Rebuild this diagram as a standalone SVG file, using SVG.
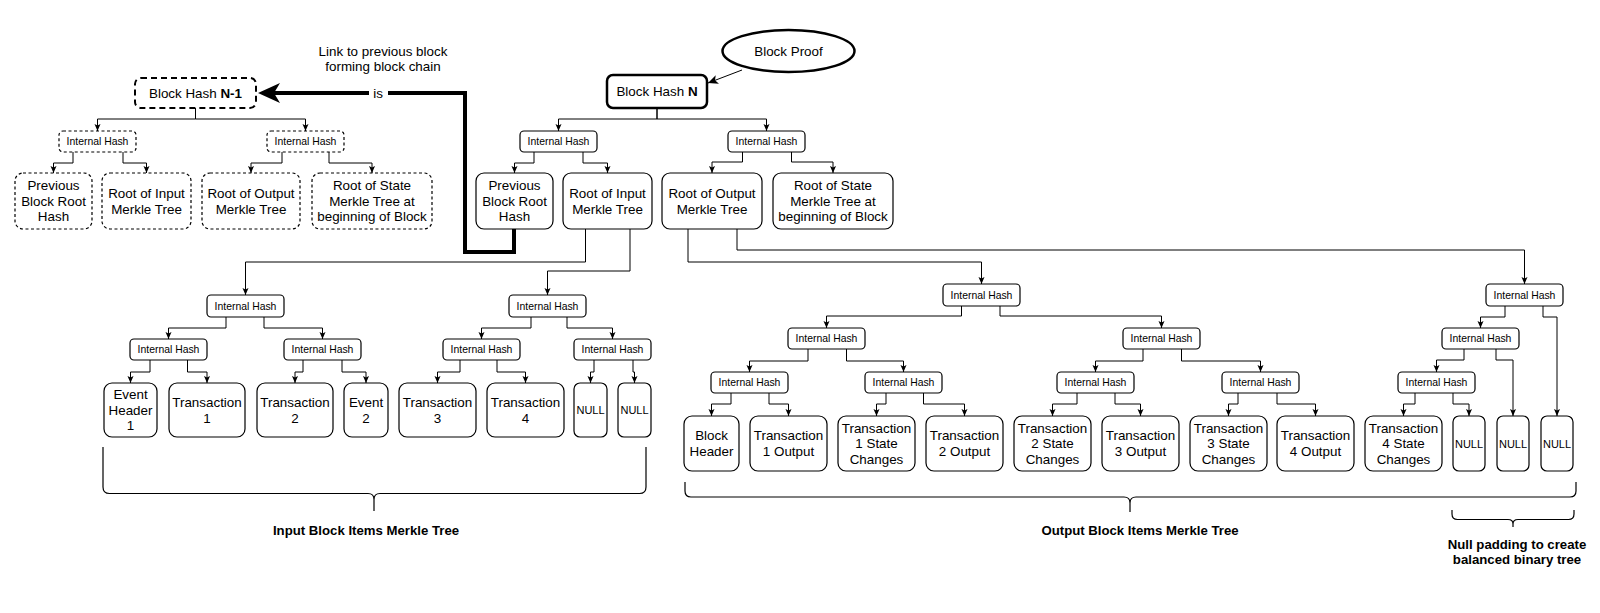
<svg xmlns="http://www.w3.org/2000/svg" width="1600" height="613" viewBox="0 0 1600 613">
<style>
text{font-family:"Liberation Sans",Arial,Helvetica,sans-serif;fill:#000;text-anchor:middle}
.t{font-size:13.4px}
.s{font-size:10.4px}
.nl{font-size:11px}
.b{font-size:13.2px;font-weight:bold}
.n rect{fill:#fff;stroke:#000;stroke-width:1.2}
.d rect{stroke-dasharray:3 2.5}
.c path{fill:none;stroke:#000;stroke-width:1;marker-end:url(#a)}
.br{fill:none;stroke:#000;stroke-width:1.2}
</style>
<defs>
<marker id="a" markerUnits="userSpaceOnUse" markerWidth="8" markerHeight="8" viewBox="0 0 8 8" refX="7" refY="4" orient="auto"><path d="M0,1 L7,4 L0,7 L1.5,4 z" fill="#000"/></marker>
<marker id="big" markerUnits="userSpaceOnUse" markerWidth="24" markerHeight="22" viewBox="0 0 24 22" refX="10" refY="11" orient="auto"><path d="M0,1 L22,11 L0,21 L6,11 z" fill="#000"/></marker>
<marker id="op" markerUnits="userSpaceOnUse" markerWidth="12" markerHeight="12" viewBox="0 0 12 12" refX="10" refY="6" orient="auto"><path d="M0,1.5 L10,6 L0,10.5 L2.5,6 z" fill="#000"/></marker>
</defs>
<rect width="1600" height="613" fill="#fff"/>

<g id="connectors">
<g class="c">
<path d="M657,108 V119 H558.5 V131"/>
<path d="M657,108 V119 H766.5 V131"/>
<path d="M534,152 V163 H514.5 V173"/>
<path d="M583,152 V163 H607.5 V173"/>
<path d="M742.5,152 V162 H712 V173"/>
<path d="M791.5,152 V162 H833 V173"/>
<path d="M195.5,108 V119 H97.5 V131"/>
<path d="M195.5,108 V119 H305.5 V131"/>
<path d="M73,152 V163 H53.5 V173"/>
<path d="M123,152 V163 H146.5 V173"/>
<path d="M282,152 V163 H251 V173"/>
<path d="M329,152 V163 H372 V173"/>
<path d="M585.5,229 V262 H245.5 V295"/>
<path d="M630,229 V271 H547.5 V295"/>
<path d="M226,317 V328 H168.5 V339"/>
<path d="M264,317 V328 H322.5 V339"/>
<path d="M531,317 V328 H481.5 V339"/>
<path d="M567,317 V328 H612.5 V339"/>
<path d="M150,360 V372 H130.5 V383"/>
<path d="M187.5,360 V372 H207 V383"/>
<path d="M303,360 V372 H295 V383"/>
<path d="M342,360 V372 H366 V383"/>
<path d="M460,360 V372 H437.5 V383"/>
<path d="M497,360 V372 H525.5 V383"/>
<path d="M594,360 V372 H590.5 V383"/>
<path d="M633,360 V372 H634.5 V383"/>
<path d="M688,229 V262 H981.5 V284"/>
<path d="M737,229 V250 H1524.5 V284"/>
<path d="M961.5,306 V316 H826.5 V328"/>
<path d="M1000,306 V316 H1161.5 V328"/>
<path d="M808,349 V361 H749.5 V372"/>
<path d="M846.5,349 V361 H903.5 V372"/>
<path d="M1143,349 V361 H1095.5 V372"/>
<path d="M1181.5,349 V361 H1260.5 V372"/>
<path d="M731,393 V404 H711.5 V416"/>
<path d="M769,393 V404 H788.5 V416"/>
<path d="M886,393 V404 H876.5 V416"/>
<path d="M923.5,393 V404 H964.5 V416"/>
<path d="M1077,393 V404 H1052.5 V416"/>
<path d="M1115,393 V404 H1140.5 V416"/>
<path d="M1238,393 V404 H1228.5 V416"/>
<path d="M1277,393 V404 H1315.5 V416"/>
<path d="M1505,306 V317 H1480.5 V328"/>
<path d="M1543,306 V317 H1557 V416"/>
<path d="M1464,349 V360 H1436.5 V372"/>
<path d="M1496,349 V360 H1513 V416"/>
<path d="M1415,393 V404 H1403.5 V416"/>
<path d="M1453,393 V404 H1469 V416"/>
</g>
<path d="M742,70 L708,83" fill="none" stroke="#000" stroke-width="1" marker-end="url(#op)"/>
<path d="M514,229 V252 H465 V93 H270" fill="none" stroke="#000" stroke-width="4" marker-end="url(#big)"/>
<rect x="369" y="85" width="19" height="16" fill="#fff"/>
<text class="t" x="378" y="97.5">is</text>
</g>

<g id="link-label"><text class="t" x="383" y="56">Link to previous block</text><text class="t" x="383" y="71">forming block chain</text></g>

<g id="block-proof"><ellipse cx="788.5" cy="51" rx="66" ry="21" fill="#fff" stroke="#000" stroke-width="2.5"/><text class="t" x="788.5" y="55.5">Block Proof</text></g>

<g id="block-hash-n" class="n"><rect x="607" y="75" width="100" height="33" rx="6" style="stroke-width:2.5"/><text class="t" x="657" y="96">Block Hash <tspan font-weight="bold">N</tspan></text></g>
<g id="ih-top-l" class="n"><rect x="520" y="131" width="77" height="21" rx="4"/><text class="s" x="558.5" y="145">Internal Hash</text></g>
<g id="ih-top-r" class="n"><rect x="728" y="131" width="77" height="21" rx="4"/><text class="s" x="766.5" y="145">Internal Hash</text></g>
<g id="prev-root" class="n"><rect x="476" y="173" width="77" height="56" rx="8"/><text class="t"><tspan x="514.5" y="190">Previous</tspan><tspan x="514.5" y="205.5">Block Root</tspan><tspan x="514.5" y="221">Hash</tspan></text></g>
<g id="root-input" class="n"><rect x="563" y="173" width="89" height="56" rx="8"/><text class="t"><tspan x="607.5" y="198">Root of Input</tspan><tspan x="607.5" y="213.5">Merkle Tree</tspan></text></g>
<g id="root-output" class="n"><rect x="662" y="173" width="100" height="56" rx="8"/><text class="t"><tspan x="712" y="198">Root of Output</tspan><tspan x="712" y="213.5">Merkle Tree</tspan></text></g>
<g id="root-state" class="n"><rect x="773" y="173" width="120" height="56" rx="8"/><text class="t"><tspan x="833" y="190">Root of State</tspan><tspan x="833" y="205.5">Merkle Tree at</tspan><tspan x="833" y="221">beginning of Block</tspan></text></g>

<g id="block-hash-n-1" class="n"><rect x="135" y="78" width="121" height="30" rx="6" style="stroke-width:2;stroke-dasharray:6 4"/><text class="t" x="195.5" y="97.5">Block Hash <tspan font-weight="bold">N-1</tspan></text></g>
<g id="d-ih-l" class="n d"><rect x="59" y="131" width="77" height="21" rx="4"/><text class="s" x="97.5" y="145">Internal Hash</text></g>
<g id="d-ih-r" class="n d"><rect x="267" y="131" width="77" height="21" rx="4"/><text class="s" x="305.5" y="145">Internal Hash</text></g>
<g id="d-prev-root" class="n d"><rect x="15" y="173" width="77" height="56" rx="8"/><text class="t"><tspan x="53.5" y="190">Previous</tspan><tspan x="53.5" y="205.5">Block Root</tspan><tspan x="53.5" y="221">Hash</tspan></text></g>
<g id="d-root-input" class="n d"><rect x="102" y="173" width="89" height="56" rx="8"/><text class="t"><tspan x="146.5" y="198">Root of Input</tspan><tspan x="146.5" y="213.5">Merkle Tree</tspan></text></g>
<g id="d-root-output" class="n d"><rect x="202" y="173" width="98" height="56" rx="8"/><text class="t"><tspan x="251" y="198">Root of Output</tspan><tspan x="251" y="213.5">Merkle Tree</tspan></text></g>
<g id="d-root-state" class="n d"><rect x="312" y="173" width="120" height="56" rx="8"/><text class="t"><tspan x="372" y="190">Root of State</tspan><tspan x="372" y="205.5">Merkle Tree at</tspan><tspan x="372" y="221">beginning of Block</tspan></text></g>

<g id="in-l1a" class="n"><rect x="207" y="295" width="77" height="22" rx="4"/><text class="s" x="245.5" y="309.5">Internal Hash</text></g>
<g id="in-l1b" class="n"><rect x="509" y="295" width="77" height="22" rx="4"/><text class="s" x="547.5" y="309.5">Internal Hash</text></g>
<g id="in-l2a" class="n"><rect x="130" y="339" width="77" height="21" rx="4"/><text class="s" x="168.5" y="353">Internal Hash</text></g>
<g id="in-l2b" class="n"><rect x="284" y="339" width="77" height="21" rx="4"/><text class="s" x="322.5" y="353">Internal Hash</text></g>
<g id="in-l2c" class="n"><rect x="443" y="339" width="77" height="21" rx="4"/><text class="s" x="481.5" y="353">Internal Hash</text></g>
<g id="in-l2d" class="n"><rect x="574" y="339" width="77" height="21" rx="4"/><text class="s" x="612.5" y="353">Internal Hash</text></g>
<g id="event-header-1" class="n"><rect x="104" y="383" width="53" height="54" rx="8"/><text class="t"><tspan x="130.5" y="399">Event</tspan><tspan x="130.5" y="414.5">Header</tspan><tspan x="130.5" y="430">1</tspan></text></g>
<g id="transaction-1" class="n"><rect x="169" y="383" width="76" height="54" rx="8"/><text class="t"><tspan x="207" y="407">Transaction</tspan><tspan x="207" y="422.5">1</tspan></text></g>
<g id="transaction-2" class="n"><rect x="257" y="383" width="76" height="54" rx="8"/><text class="t"><tspan x="295" y="407">Transaction</tspan><tspan x="295" y="422.5">2</tspan></text></g>
<g id="event-2" class="n"><rect x="344" y="383" width="44" height="54" rx="8"/><text class="t"><tspan x="366" y="407">Event</tspan><tspan x="366" y="422.5">2</tspan></text></g>
<g id="transaction-3" class="n"><rect x="399" y="383" width="77" height="54" rx="8"/><text class="t"><tspan x="437.5" y="407">Transaction</tspan><tspan x="437.5" y="422.5">3</tspan></text></g>
<g id="transaction-4" class="n"><rect x="487" y="383" width="77" height="54" rx="8"/><text class="t"><tspan x="525.5" y="407">Transaction</tspan><tspan x="525.5" y="422.5">4</tspan></text></g>
<g id="in-null-1" class="n"><rect x="574" y="383" width="33" height="54" rx="6"/><text class="nl" x="590.5" y="414">NULL</text></g>
<g id="in-null-2" class="n"><rect x="618" y="383" width="33" height="54" rx="6"/><text class="nl" x="634.5" y="414">NULL</text></g>

<g id="out-l1" class="n"><rect x="943" y="284" width="77" height="22" rx="4"/><text class="s" x="981.5" y="298.5">Internal Hash</text></g>
<g id="out-l2a" class="n"><rect x="788" y="328" width="77" height="21" rx="4"/><text class="s" x="826.5" y="342">Internal Hash</text></g>
<g id="out-l2b" class="n"><rect x="1123" y="328" width="77" height="21" rx="4"/><text class="s" x="1161.5" y="342">Internal Hash</text></g>
<g id="out-l3a" class="n"><rect x="711" y="372" width="77" height="21" rx="4"/><text class="s" x="749.5" y="386">Internal Hash</text></g>
<g id="out-l3b" class="n"><rect x="865" y="372" width="77" height="21" rx="4"/><text class="s" x="903.5" y="386">Internal Hash</text></g>
<g id="out-l3c" class="n"><rect x="1057" y="372" width="77" height="21" rx="4"/><text class="s" x="1095.5" y="386">Internal Hash</text></g>
<g id="out-l3d" class="n"><rect x="1222" y="372" width="77" height="21" rx="4"/><text class="s" x="1260.5" y="386">Internal Hash</text></g>
<g id="block-header" class="n"><rect x="684" y="416" width="55" height="55" rx="8"/><text class="t"><tspan x="711.5" y="440">Block</tspan><tspan x="711.5" y="455.5">Header</tspan></text></g>
<g id="t1-output" class="n"><rect x="750" y="416" width="77" height="55" rx="8"/><text class="t"><tspan x="788.5" y="440">Transaction</tspan><tspan x="788.5" y="455.5">1 Output</tspan></text></g>
<g id="t1-state" class="n"><rect x="838" y="416" width="77" height="55" rx="8"/><text class="t"><tspan x="876.5" y="432.5">Transaction</tspan><tspan x="876.5" y="448">1 State</tspan><tspan x="876.5" y="463.5">Changes</tspan></text></g>
<g id="t2-output" class="n"><rect x="926" y="416" width="77" height="55" rx="8"/><text class="t"><tspan x="964.5" y="440">Transaction</tspan><tspan x="964.5" y="455.5">2 Output</tspan></text></g>
<g id="t2-state" class="n"><rect x="1014" y="416" width="77" height="55" rx="8"/><text class="t"><tspan x="1052.5" y="432.5">Transaction</tspan><tspan x="1052.5" y="448">2 State</tspan><tspan x="1052.5" y="463.5">Changes</tspan></text></g>
<g id="t3-output" class="n"><rect x="1102" y="416" width="77" height="55" rx="8"/><text class="t"><tspan x="1140.5" y="440">Transaction</tspan><tspan x="1140.5" y="455.5">3 Output</tspan></text></g>
<g id="t3-state" class="n"><rect x="1190" y="416" width="77" height="55" rx="8"/><text class="t"><tspan x="1228.5" y="432.5">Transaction</tspan><tspan x="1228.5" y="448">3 State</tspan><tspan x="1228.5" y="463.5">Changes</tspan></text></g>
<g id="t4-output" class="n"><rect x="1277" y="416" width="77" height="55" rx="8"/><text class="t"><tspan x="1315.5" y="440">Transaction</tspan><tspan x="1315.5" y="455.5">4 Output</tspan></text></g>
<g id="t4-state" class="n"><rect x="1365" y="416" width="77" height="55" rx="8"/><text class="t"><tspan x="1403.5" y="432.5">Transaction</tspan><tspan x="1403.5" y="448">4 State</tspan><tspan x="1403.5" y="463.5">Changes</tspan></text></g>
<g id="out-null-1" class="n"><rect x="1453" y="416" width="32" height="55" rx="6"/><text class="nl" x="1469" y="447.5">NULL</text></g>
<g id="out-null-2" class="n"><rect x="1497" y="416" width="32" height="55" rx="6"/><text class="nl" x="1513" y="447.5">NULL</text></g>
<g id="out-null-3" class="n"><rect x="1541" y="416" width="32" height="55" rx="6"/><text class="nl" x="1557" y="447.5">NULL</text></g>
<g id="null-l1" class="n"><rect x="1486" y="284" width="77" height="22" rx="4"/><text class="s" x="1524.5" y="298.5">Internal Hash</text></g>
<g id="null-l2" class="n"><rect x="1442" y="328" width="77" height="21" rx="4"/><text class="s" x="1480.5" y="342">Internal Hash</text></g>
<g id="null-l3" class="n"><rect x="1398" y="372" width="77" height="21" rx="4"/><text class="s" x="1436.5" y="386">Internal Hash</text></g>

<g id="brace-input"><path class="br" d="M103,447 V487 Q103,493.5 109.5,493.5 H368 Q374,493.5 374,499.5 V511 M646,447 V487 Q646,493.5 639.5,493.5 H380 Q374,493.5 374,499.5"/><text class="b" x="366" y="535">Input Block Items Merkle Tree</text></g>
<g id="brace-output"><path class="br" d="M685,482 V491 Q685,497 691,497 H1124 Q1130,497 1130,503 V512 M1576,482 V491 Q1576,497 1570,497 H1136 Q1130,497 1130,503"/><text class="b" x="1140" y="535">Output Block Items Merkle Tree</text></g>
<g id="brace-null"><path class="br" d="M1452,510 V514 Q1452,519.5 1457.5,519.5 H1508 Q1513,519.5 1513,524 V527 M1574,510 V514 Q1574,519.5 1568.5,519.5 H1518 Q1513,519.5 1513,524"/><text class="b"><tspan x="1517" y="549">Null padding to create</tspan><tspan x="1517" y="564">balanced binary tree</tspan></text></g>
</svg>
